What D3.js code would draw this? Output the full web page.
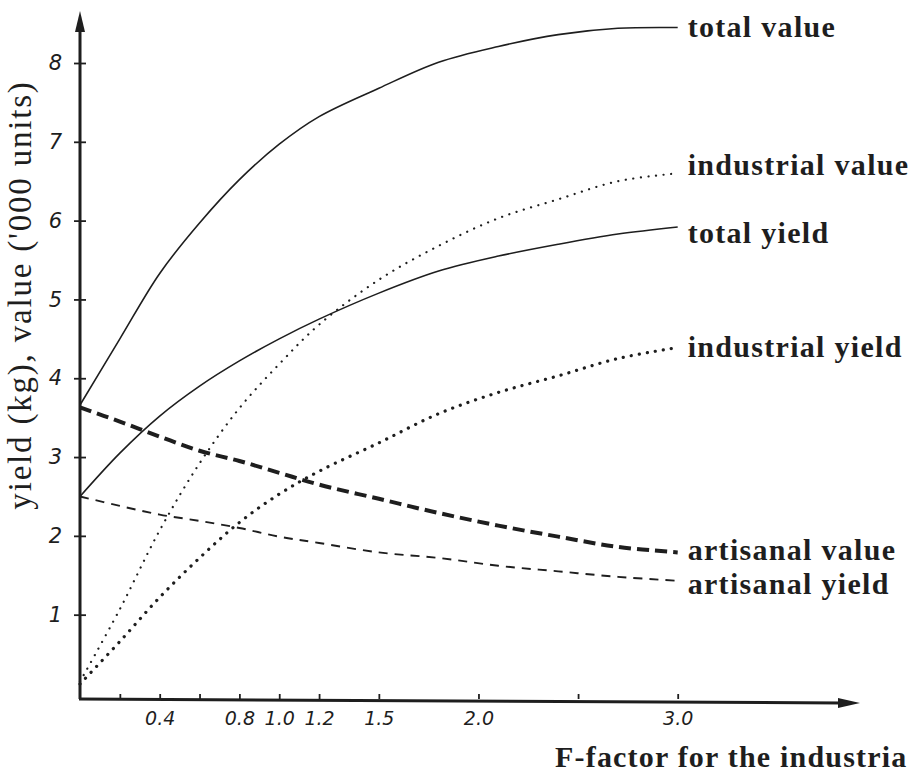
<!DOCTYPE html>
<html>
<head>
<meta charset="utf-8">
<script src="https://cdn.jsdelivr.net/npm/d3@7"></script>
<style>
  body { margin: 0; background: #fff; }
  svg { display: block; }
</style>
</head>
<body>
<div id="chart"></div>
<script>
// values
const fFactor = [0, 0.2, 0.4, 0.6, 0.8, 1.0, 1.2, 1.5, 1.8, 2.1, 2.4, 2.7, 3.0];
const totalValue = [3.66, 4.50, 5.33, 5.97, 6.52, 6.97, 7.32, 7.68, 8.01, 8.21, 8.36, 8.44, 8.45];
const industrialValue = [0.15, 1.07, 2.07, 2.92, 3.62, 4.18, 4.68, 5.25, 5.68, 6.03, 6.27, 6.50, 6.60];
const totalYield = [2.50, 3.05, 3.52, 3.90, 4.22, 4.50, 4.75, 5.08, 5.36, 5.55, 5.70, 5.83, 5.92];
const industrialYield = [0.12, 0.66, 1.22, 1.72, 2.17, 2.53, 2.82, 3.18, 3.55, 3.82, 4.03, 4.25, 4.39];
const artisanalValue = [3.63, 3.45, 3.26, 3.08, 2.95, 2.80, 2.65, 2.47, 2.29, 2.13, 1.99, 1.86, 1.79];
const artisanalYield = [2.50, 2.38, 2.27, 2.19, 2.10, 1.99, 1.91, 1.79, 1.72, 1.62, 1.55, 1.48, 1.43];

const seriesNames = ["total value", "industrial value", "total yield", "industrial yield", "artisanal value", "artisanal yield"];
const xTicks = [0.2, 0.4, 0.6, 0.8, 1.0, 1.2, 1.5, 2.0, 2.5, 3.0];
const xTickLabels = ["", "0.4", "", "0.8", "1.0", "1.2", "1.5", "2.0", "", "3.0"];
const yTicks = [1, 2, 3, 4, 5, 6, 7, 8];
const xTitle = "F-factor for the industria";
const yTitle = "yield (kg), value ('000 units)";

const W = 910, H = 773;
const ink = "#1e1e1e";
const serif = "'Liberation Serif', 'Times New Roman', serif";
const hand = "'DejaVu Sans', sans-serif";

const svg = d3.select("#chart").append("svg")
  .attr("width", W)
  .attr("height", H);

const x = d3.scaleLinear().domain([0, 3.9]).range([80, 857]);
const y = d3.scaleLinear().domain([-0.07, 8]).range([699, 63]);

// line styles per series
const styles = [
  {vals: totalValue,      width: 1.6, dash: null,      cap: "butt",  dy: 0},
  {vals: industrialValue, width: 2.2, dash: "0.1,7.5", cap: "round", dy: -8},
  {vals: totalYield,      width: 1.6, dash: null,      cap: "butt",  dy: 6},
  {vals: industrialYield, width: 3.2, dash: "0.1,8",   cap: "round", dy: 0},
  {vals: artisanalValue,  width: 4,   dash: "12,6",    cap: "butt",  dy: -2},
  {vals: artisanalYield,  width: 1.9, dash: "9,7",     cap: "butt",  dy: 4}
];

const line = d3.line()
  .x(d => x(d[0]))
  .y(d => y(d[1]))
  .curve(d3.curveCatmullRom.alpha(0.5));

seriesNames.forEach((name, i) => {
  const s = styles[i];
  const pts = fFactor.map((f, j) => [f, s.vals[j]]);
  svg.append("path")
    .datum(pts)
    .attr("fill", "none")
    .attr("stroke", ink)
    .attr("stroke-width", s.width)
    .attr("stroke-linecap", s.cap)
    .attr("stroke-dasharray", s.dash)
    .attr("d", line);

  svg.append("text")
    .attr("x", x(3.0) + 10)
    .attr("y", y(s.vals[s.vals.length - 1]) + s.dy)
    .attr("dy", "0.32em")
    .style("font-family", serif)
    .style("font-weight", "bold")
    .style("font-size", "30px")
    .style("letter-spacing", "1.3px")
    .style("fill", ink)
    .text(name);
});

// axes (ticks from d3, own arrowed lines)
const xAxis = svg.append("g")
  .attr("transform", `translate(0,${y(-0.07)})`)
  .call(d3.axisBottom(x)
    .tickValues(xTicks)
    .tickSize(-5)
    .tickPadding(13)
    .tickFormat((d, i) => xTickLabels[i]));
xAxis.select(".domain").remove();
xAxis.selectAll(".tick line").attr("stroke", ink).attr("stroke-width", 1.8);
xAxis.selectAll(".tick text")
  .style("font-family", hand)
  .style("font-style", "italic")
  .style("font-size", "19px")
  .style("fill", ink);

const yAxis = svg.append("g")
  .attr("transform", `translate(${x(0)},0)`)
  .call(d3.axisLeft(y)
    .tickValues(yTicks)
    .tickSize(6)
    .tickPadding(12)
    .tickFormat(d3.format("d")));
yAxis.select(".domain").remove();
yAxis.selectAll(".tick line").attr("x1", 6).attr("stroke", ink).attr("stroke-width", 1.8);
yAxis.selectAll(".tick text")
  .style("font-family", hand)
  .style("font-style", "italic")
  .style("font-size", "21px")
  .style("fill", ink);

const x0 = x(0), y0 = y(-0.07);
svg.append("line")
  .attr("x1", x0).attr("y1", y0).attr("x2", x0).attr("y2", 26)
  .attr("stroke", ink).attr("stroke-width", 3);
svg.append("path")
  .attr("d", `M${x0},11 L${x0 - 5},32 L${x0 + 5},32 Z`)
  .attr("fill", ink);

svg.append("line")
  .attr("x1", x0 - 1).attr("y1", y0).attr("x2", 842).attr("y2", y0 + 4)
  .attr("stroke", ink).attr("stroke-width", 3);
svg.append("path")
  .attr("d", `M860,${y0 + 4} L838,${y0 - 1} L838,${y0 + 9} Z`)
  .attr("fill", ink);

// axis titles
svg.append("text")
  .attr("x", 555)
  .attr("y", 767)
  .style("font-family", serif)
  .style("font-weight", "bold")
  .style("font-size", "30px")
  .style("letter-spacing", "1.2px")
  .style("fill", ink)
  .text(xTitle);

svg.append("text")
  .attr("transform", "translate(31,295) rotate(-90)")
  .attr("text-anchor", "middle")
  .style("font-family", serif)
  .style("font-size", "33px")
  .style("letter-spacing", "1.8px")
  .style("fill", ink)
  .text(yTitle);
</script>
</body>
</html>
